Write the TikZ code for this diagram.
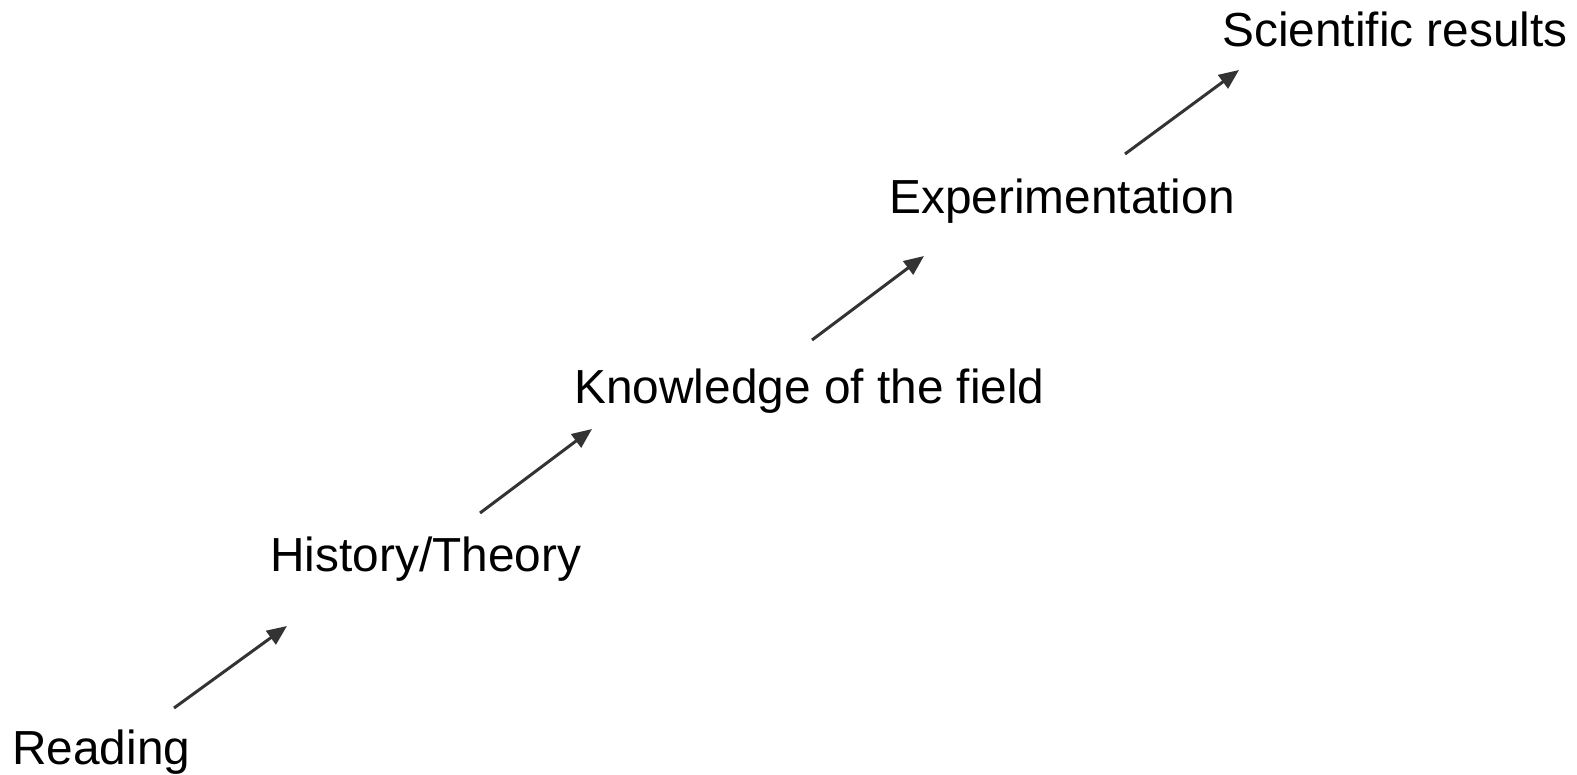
\documentclass[tikz,border=0pt]{standalone}
\usepackage{fontspec}
\setmainfont{Liberation Sans}
\usepackage{tikz}
\usetikzlibrary{arrows.meta}
\definecolor{ArrowGray}{RGB}{51,51,51}

\begin{document}
\begin{tikzpicture}[x=0.02cm, y=-0.02cm,
	stage/.style={anchor=base west, inner sep=0pt, font=\fontsize{27.2}{30}\selectfont},
	link/.style={-{Triangle[length=0.4cm, width=0.33cm]}, line width=1.7pt, ArrowGray}]
		\useasboundingbox (0, 0) rectangle (1577, 774);
		
		\node[stage] (read) at (12, 764) {Reading};
		\node[stage] (hist) at (270, 571) {History/Theory};
		\node[stage] (know) at (574, 403) {Knowledge of the field};
		\node[stage] (expe) at (889, 213) {Experimentation};
		\node[stage] (resu) at (1222, 46) {Scientific results};
		
		\coordinate (A1) at (174, 708);
		\coordinate (B1) at (287, 626);
		\coordinate (A2) at (480, 513);
		\coordinate (B2) at (592, 429);
		\coordinate (A3) at (812, 340);
		\coordinate (B3) at (924, 256);
		\coordinate (A4) at (1125, 154);
		\coordinate (B4) at (1239, 70);
		
		\draw[link] (A1) -- (B1);
		\draw[link] (A2) -- (B2);
		\draw[link] (A3) -- (B3);
		\draw[link] (A4) -- (B4);
	\end{tikzpicture}
\end{document}
